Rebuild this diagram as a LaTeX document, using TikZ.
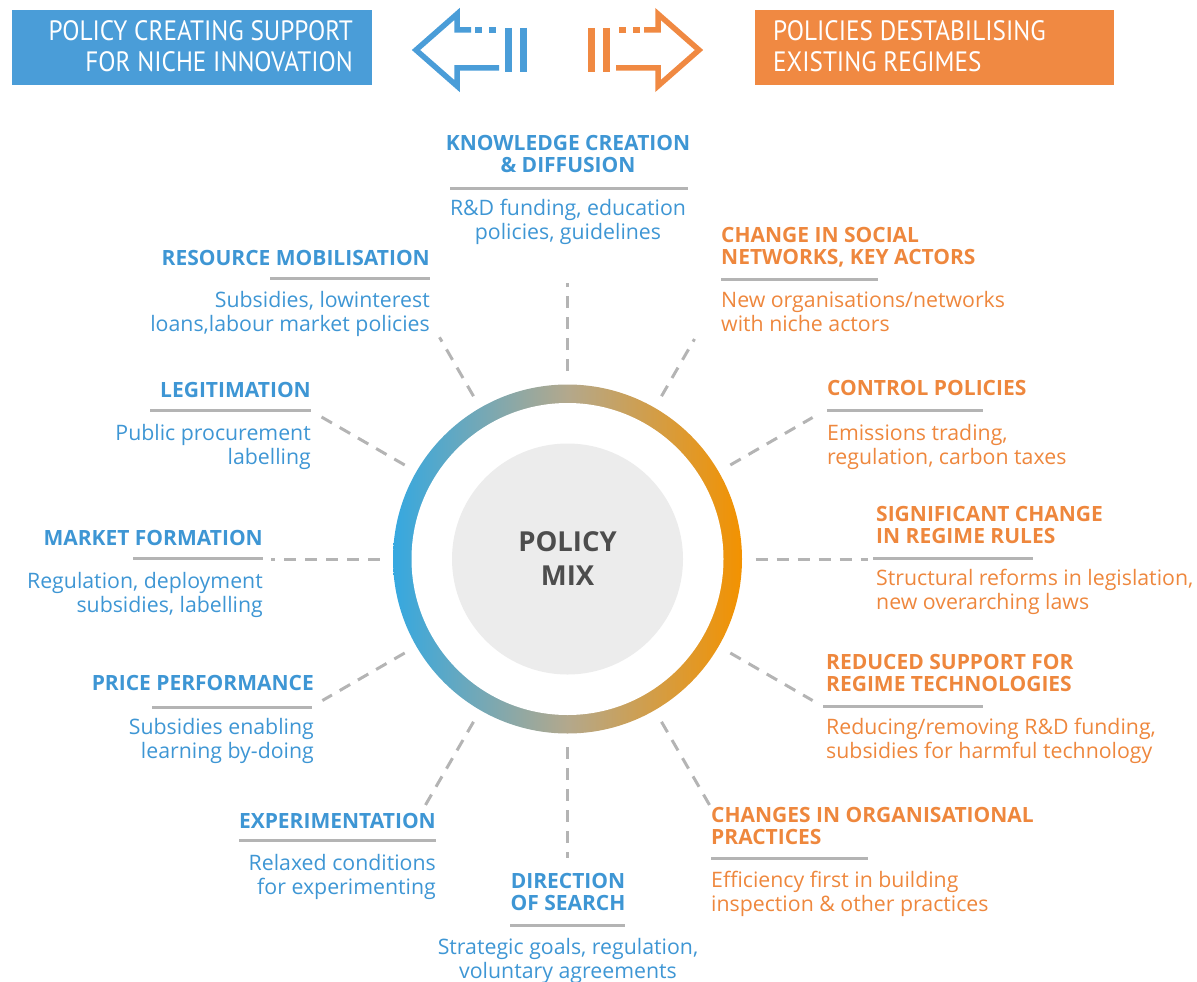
\documentclass[tikz,border=0pt]{standalone}
\usepackage{fontspec}
\setmainfont{Open Sans}
\newfontfamily\hdrfamily[FakeStretch=0.9]{PT Sans}
\usetikzlibrary{calc}
\definecolor{cblue}{HTML}{3E96D4}
\definecolor{corange}{HTML}{EE873D}
\definecolor{boxblue}{HTML}{4A9DD8}
\definecolor{boxorange}{HTML}{F08942}
\definecolor{cgray}{HTML}{B4B4B4}
\definecolor{ringblue}{HTML}{35A8E0}
\definecolor{ringmid}{HTML}{B3A88C}
\definecolor{ringorange}{HTML}{F39200}
\definecolor{innergray}{HTML}{ECECEC}
\definecolor{ctext}{HTML}{4D4D4D}
\newcommand\ttlfont{\bfseries\fontsize{21}{22}\selectfont}
\newcommand\bdyfont{\fontsize{21.3}{24}\selectfont}
\newcommand\hdrfont{\hdrfamily\fontsize{28}{31}\selectfont}
\newcommand\ctrfont{\bfseries\fontsize{27.5}{34}\selectfont}
\begin{document}
\begin{tikzpicture}[x=1pt,y=-1pt,
  ttl/.style={font=\ttlfont, inner sep=0pt},
  bdy/.style={font=\bdyfont, inner sep=0pt},
  lft/.style={align=right, anchor=north east},
  rgt/.style={align=left, anchor=north west},
  mid/.style={align=center, anchor=north},
  uline/.style={draw=cgray, line width=3pt},
  spoke/.style={draw=cgray, line width=3pt, dash pattern=on 12pt off 9pt},
  hdrtext/.style={font=\hdrfont, text=white, inner sep=0pt},
  arrowline/.style={line width=5.5pt, line join=miter},
  bar/.style={line width=6.5pt}
]
\useasboundingbox (0,0) rectangle (1197,982);

% header boxes
\fill[boxblue] (12,10) rectangle (372,85);
\fill[boxorange] (755,10) rectangle (1114,85);
\node[hdrtext, align=right, anchor=north east] (hl) at (353,20) {POLICY CREATING SUPPORT\\FOR NICHE INNOVATION};
\node[hdrtext, align=left, anchor=north west] (hr) at (773,20) {POLICIES DESTABILISING\\EXISTING REGIMES};

% header arrows
\draw[arrowline, draw=boxblue] (499,68) -- (457,68) -- (457,86) -- (416,50) -- (457,14) -- (457,30) -- (471,30);
\draw[arrowline, draw=boxblue] (475,30) -- (482,30) (489,30) -- (496,30);
\draw[bar, draw=boxblue] (508.5,28) -- (508.5,72) (523.5,28) -- (523.5,72);
\draw[arrowline, draw=boxorange] (616,68) -- (658,68) -- (658,86) -- (699,50) -- (658,14) -- (658,30) -- (644,30);
\draw[arrowline, draw=boxorange] (640,30) -- (633,30) (626,30) -- (619,30);
\draw[bar, draw=boxorange] (606.5,28) -- (606.5,72) (591.5,28) -- (591.5,72);

% ring
\coordinate (c) at (567.5,559);
\shade[left color=ringblue, right color=ringorange, middle color=ringmid] (c) circle (174.5pt);
\fill[white] (c) circle (156pt);
\fill[innergray] (c) circle (115.5pt);
\node[font=\ctrfont, text=ctext, align=center, inner sep=0pt] (mix) at (567.5,559) {POLICY\\MIX};

% spokes
\foreach \a/\r in {90/276, 60/254, 30/283, 0/300, 330/283, 300/289, 270/299, 240/287, 210/283, 180/297, 150/285, 120/256}{
  \coordinate (in\a) at ($(c)+(\a:188pt)$);
  \coordinate (out\a) at ($(c)+(\a:\r pt)$);
  \draw[spoke] (in\a) -- (out\a);
}

% left items
\node[ttl, lft, text=cblue] (t120) at (430,250.5) {RESOURCE MOBILISATION};
\draw[uline] (270,278) -- (430,278);
\node[bdy, lft, text=cblue] (b120) at (430,291) {Subsidies, lowinterest\\loans,labour market policies};

\node[ttl, lft, text=cblue] (t150) at (311,382.5) {LEGITIMATION};
\draw[uline] (150,410) -- (311,410);
\node[bdy, lft, text=cblue] (b150) at (311,424) {Public procurement\\labelling};

\node[ttl, lft, text=cblue] (t180) at (263,530.5) {MARKET FORMATION};
\draw[uline] (133,558) -- (263,558);
\node[bdy, lft, text=cblue] (b180) at (263,572) {Regulation, deployment\\subsidies, labelling};

\node[ttl, lft, text=cblue] (t210) at (314,675.5) {PRICE PERFORMANCE};
\draw[uline] (152,707) -- (312,707);
\node[bdy, lft, text=cblue] (b210) at (314,718) {Subsidies enabling\\learning by-doing};

\node[ttl, lft, text=cblue] (t240) at (436,813.5) {EXPERIMENTATION};
\draw[uline] (239,840) -- (436,840);
\node[bdy, lft, text=cblue] (b240) at (436,854) {Relaxed conditions\\for experimenting};

% centre items
\node[ttl, mid, text=cblue] (t90) at (568,135.5) {KNOWLEDGE CREATION\\\& DIFFUSION};
\draw[uline] (450,188) -- (688,188);
\node[bdy, mid, text=cblue] (b90) at (568,199) {R\&D funding, education\\policies, guidelines};

\node[ttl, mid, text=cblue] (t270) at (568,873.5) {DIRECTION\\OF SEARCH};
\draw[uline] (510,925) -- (625,925);
\node[bdy, mid, text=cblue] (b270) at (568,938) {Strategic goals, regulation,\\voluntary agreements};

% right items
\node[ttl, rgt, text=corange] (t60) at (721,227.5) {CHANGE IN SOCIAL\\NETWORKS, KEY ACTORS};
\draw[uline] (721,279) -- (878,279);
\node[bdy, rgt, text=corange] (b60) at (721,291) {New organisations/networks\\with niche actors};

\node[ttl, rgt, text=corange] (t30) at (827,380.5) {CONTROL POLICIES};
\draw[uline] (827,410) -- (983,410);
\node[bdy, rgt, text=corange] (b30) at (827,424) {Emissions trading,\\regulation, carbon taxes};

\node[ttl, rgt, text=corange] (t0) at (876,506.5) {SIGNIFICANT CHANGE\\IN REGIME RULES};
\draw[uline] (873,558) -- (1033,558);
\node[bdy, rgt, text=corange] (b0) at (876,569) {Structural reforms in legislation,\\new overarching laws};

\node[ttl, rgt, text=corange] (t330) at (826,654.5) {REDUCED SUPPORT FOR\\REGIME TECHNOLOGIES};
\draw[uline] (823,706) -- (983,706);
\node[bdy, rgt, text=corange] (b330) at (826,718) {Reducing/removing R\&D funding,\\subsidies for harmful technology};

\node[ttl, rgt, text=corange] (t300) at (711,807.5) {CHANGES IN ORGANISATIONAL\\PRACTICES};
\draw[uline] (711,858) -- (868,858);
\node[bdy, rgt, text=corange] (b300) at (711,871) {Efficiency first in building\\inspection \& other practices};
\end{tikzpicture}
\end{document}
